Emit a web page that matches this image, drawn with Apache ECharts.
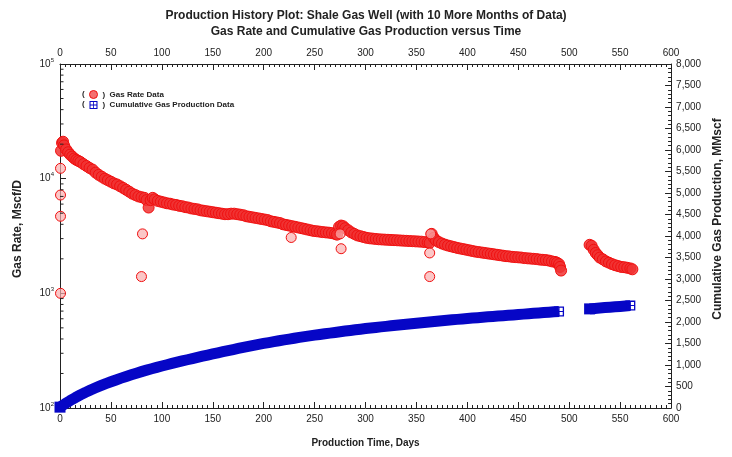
<!DOCTYPE html>
<html><head><meta charset="utf-8">
<script src="https://cdn.jsdelivr.net/npm/echarts/dist/echarts.min.js"></script>
<style>html,body{margin:0;padding:0;background:#fff;}#c{width:732px;height:457px;}</style>
</head><body><div id="c"></div>
<script>
// ---- Data ----
const titleLine1 = 'Production History Plot: Shale Gas Well (with 10 More Months of Data)';
const titleLine2 = 'Gas Rate and Cumulative Gas Production versus Time';
const xTickLabels = [0,50,100,150,200,250,300,350,400,450,500,550,600];
const rightTickStep = 500;
const logMinorTicks = [200,300,400,500,600,700,800,900,2000,3000,4000,5000,6000,7000,8000,9000,20000,30000,40000,50000,60000,70000,80000,90000];

// Gas rate, Mscf/D (segment 1)
const rateDays1 = [1,2,3,4,6,8,10,12,14,16,18,20,23,26,29,32,35,38,41,44,47,50,53,56,59,62,65,68,71,74,77,80,83,85,87,89,91,93,96,99,102,105,108,111,114,117,120,123,126,129,132,135,138,141,144,147,150,153,156,159,162,165,168,171,174,177,180,183,186,189,192,195,198,201,204,207,210,213,216,219,222,225,228,231,234,237,240,243,246,249,252,255,258,261,264,267,270,272,274,276,278,280,283,286,289,292,295,298,301,304,307,310,313,316,319,322,325,328,331,334,337,340,343,346,349,352,355,358,361,363,365,367,369,372,375,378,381,384,387,390,393,396,399,402,405,408,411,414,417,420,423,426,429,432,435,438,441,444,447,450,453,456,459,462,465,468,471,474,477,480,483,486,488,490,491,492];
const rateVals1 = [17500,20500,21000,19500,18000,17000,16200,15600,15000,14600,14300,14000,13400,12900,12400,12000,11300,10800,10400,10000,9700,9400,9100,8900,8600,8300,8000,7700,7400,7200,7000,6900,6800,6500,5600,6500,6800,6600,6400,6300,6200,6100,6050,5950,5900,5800,5750,5650,5600,5500,5450,5400,5300,5250,5200,5150,5100,5050,5000,4950,4900,4900,4950,4950,4900,4850,4800,4700,4650,4600,4550,4500,4450,4400,4350,4250,4200,4150,4100,4000,3950,3900,3850,3800,3750,3700,3650,3600,3550,3500,3480,3450,3420,3400,3380,3350,3300,3250,3800,3900,3850,3700,3550,3400,3300,3200,3150,3100,3050,3020,3000,2980,2960,2950,2940,2930,2920,2910,2900,2890,2880,2870,2860,2850,2840,2830,2820,2800,2780,2750,3300,3050,2900,2800,2720,2660,2610,2570,2530,2490,2460,2430,2400,2370,2340,2310,2290,2270,2250,2230,2210,2190,2170,2150,2130,2110,2100,2080,2070,2060,2050,2030,2020,2010,2000,1990,1970,1960,1950,1930,1900,1880,1850,1800,1700,1580];
// Gas rate, Mscf/D (segment 2, after the gap)
const rateDays2 = [520,522,524,526,528,530,533,536,539,542,545,548,551,554,557,560,562];
const rateVals2 = [2650,2600,2400,2250,2150,2050,1980,1900,1850,1800,1760,1730,1700,1690,1670,1650,1620];
// Low outlier rate points
const outlierDays = [0.5,0.5,0.5,0.5,81,80,227,275,276,364,363,363];
const outlierVals = [1000,4700,7200,12300,3300,1400,3070,3300,2450,3300,2250,1400];

// Cumulative gas production, MMscf
const cumDays1 = [0,5,10,15,20,25,30,35,40,45,50,55,60,65,70,75,80,85,90,95,100,105,110,115,120,125,130,135,140,145,150,155,160,165,170,175,180,185,190,195,200,205,210,215,220,225,230,235,240,245,250,255,260,265,270,275,280,285,290,295,300,305,310,315,320,325,330,335,340,345,350,355,360,365,370,375,380,385,390,395,400,405,410,415,420,425,430,435,440,445,450,455,460,465,470,475,480,485,490];
const cumVals1 = [20,100,172,240,304,364,420,472,521,567,610,652,694,734,773,810,846,880,913,945,976,1006,1036,1065,1094,1122,1150,1178,1205,1232,1258,1284,1309,1334,1359,1384,1408,1432,1455,1478,1501,1522,1543,1563,1583,1603,1622,1641,1659,1677,1695,1711,1727,1742,1757,1773,1789,1804,1819,1833,1847,1860,1873,1886,1899,1912,1924,1936,1948,1960,1972,1983,1994,2006,2018,2029,2040,2051,2061,2071,2081,2091,2101,2111,2120,2129,2138,2147,2156,2165,2174,2183,2192,2201,2210,2219,2228,2236,2244];
const cumDays2 = [520,525,530,535,540,545,550,555,560];
const cumVals2 = [2305,2316,2326,2336,2345,2354,2363,2372,2381];

// ---- Chart ----
const FONT = '"Liberation Sans", Arial, sans-serif';
const RED = '#f01010';
const BLUE = '#0606c6';
const crossSquare = 'path://M0,0H10V10H0Z M1.3,1.3V4.5H4.5V1.3Z M5.5,1.3V4.5H8.7V1.3Z M1.3,5.5V8.7H4.5V5.5Z M5.5,5.5V8.7H8.7V5.5Z';

const rateData = [];
rateDays1.forEach((d,i)=>rateData.push([d, rateVals1[i]]));
rateDays2.forEach((d,i)=>rateData.push([d, rateVals2[i]]));
outlierDays.forEach((d,i)=>rateData.push({value:[d, outlierVals[i]], symbolSize:10,
  itemStyle:{color:'rgba(250,175,175,0.7)', borderColor:RED, borderWidth:1}}));

function cumSeriesData(days, vals){
  return days.map((d,i)=>{
    const item = {value:[d, vals[i]]};
    if (i === days.length-1) { item.symbol = crossSquare; item.symbolSize = 10; }
    else if (i === 0) { item.symbol = 'rect'; item.symbolSize = 11; }
    else { item.symbol = 'none'; }
    return item;
  });
}

const tickLabelStyle = {fontFamily: FONT, fontSize: 10, color: '#222'};
const axisLineStyle = {lineStyle:{color:'#222', width:1}};

function xAxisCfg(pos){
  return {
    type:'value', position:pos, min:0, max:600, interval:50,
    axisLine: Object.assign({show:true, onZero:false}, axisLineStyle),
    axisTick:{show:true, inside:true, length:6, lineStyle:{color:'#222'}},
    minorTick:{show:true, splitNumber:10, length:3, lineStyle:{color:'#222'}},
    splitLine:{show:false},
    axisLabel: Object.assign({margin:6, formatter: v => xTickLabels.includes(v) ? String(v) : ''}, tickLabelStyle)
  };
}

function cumSeries(days, vals){
  return {
    name:'Cumulative Gas Production Data', type:'line', xAxisIndex:0, yAxisIndex:1,
    symbol:'rect', symbolSize:10, showSymbol:true, showAllSymbol:true,
    lineStyle:{color:BLUE, width:11, cap:'butt', join:'round'},
    itemStyle:{color:BLUE, borderColor:BLUE, borderWidth:0},
    data:cumSeriesData(days, vals), z:3
  };
}

const chart = echarts.init(document.getElementById('c'), null, {renderer:'canvas'});
chart.setOption({
  backgroundColor:'#fff',
  animation:false,
  title:{
    text: titleLine1 + '\n' + titleLine2,
    left:'center', top:3,
    textStyle:{fontFamily:FONT, fontSize:12, fontWeight:'bold', color:'#222', lineHeight:16}
  },
  legend:{
    orient:'vertical', left:89, top:90, padding:0, itemWidth:8, itemHeight:8, itemGap:2,
    textStyle:{fontFamily:FONT, fontSize:8, fontWeight:'bold', color:'#222'},
    formatter: n => ')  ' + n,
    data:[
      {name:'Gas Rate Data', icon:'circle', itemStyle:{color:'#f47070', borderColor:RED, borderWidth:1}},
      {name:'Cumulative Gas Production Data', icon:crossSquare, itemStyle:{color:BLUE}}
    ]
  },
  graphic:[
    {type:'text', left:82, top:90, style:{text:'(', font:'bold 8px '+FONT, fill:'#222'}},
    {type:'text', left:82, top:100, style:{text:'(', font:'bold 8px '+FONT, fill:'#222'}}
  ],
  grid:{left:60, right:54, top:64, bottom:49, containLabel:false},
  xAxis:[
    Object.assign(xAxisCfg('bottom'), {name:'Production Time, Days', nameLocation:'middle', nameGap:30,
      nameTextStyle:{fontFamily:FONT, fontSize:10, fontWeight:'bold', color:'#222'}}),
    xAxisCfg('top')
  ],
  yAxis:[
    {
      type:'log', logBase:10, min:100, max:100000, position:'left',
      name:'Gas Rate, Mscf/D', nameLocation:'middle', nameGap:36, nameRotate:90,
      nameTextStyle:{fontFamily:FONT, fontSize:12, fontWeight:'bold', color:'#222', padding:[0,0,0,14]},
      axisLine: Object.assign({show:true, onZero:false}, axisLineStyle),
      axisTick:{show:true, inside:true, length:6, lineStyle:{color:'#222'}},
      minorTick:{show:false},
      splitLine:{show:false},
      axisLabel:{
        margin:6,
        formatter: v => '{b|10}{s|' + Math.round(Math.log10(v)) + '}',
        rich:{
          b:{fontFamily:FONT, fontSize:10, color:'#222'},
          s:{fontFamily:FONT, fontSize:6, color:'#222', padding:[0,0,8,0]}
        }
      }
    },
    {
      type:'value', min:0, max:8000, interval:rightTickStep, position:'right',
      name:'Cumulative Gas Production, MMscf', nameLocation:'middle', nameGap:38, nameRotate:90,
      nameTextStyle:{fontFamily:FONT, fontSize:12, fontWeight:'bold', color:'#222', padding:[0,0,0,34]},
      axisLine: Object.assign({show:true, onZero:false}, axisLineStyle),
      axisTick:{show:true, inside:true, length:6, lineStyle:{color:'#222'}},
      minorTick:{show:true, splitNumber:5, length:3, lineStyle:{color:'#222'}},
      splitLine:{show:false},
      axisLabel: Object.assign({margin:5, formatter: v => v.toLocaleString('en-US')}, tickLabelStyle)
    }
  ],
  series:[
    cumSeries(cumDays1, cumVals1),
    cumSeries(cumDays2, cumVals2),
    {
      name:'Gas Rate Data', type:'scatter', xAxisIndex:0, yAxisIndex:0,
      symbol:'circle', symbolSize:11,
      itemStyle:{color:'rgba(240,50,50,0.85)', borderColor:RED, borderWidth:1, opacity:1},
      data:rateData, z:4
    },
    {
      type:'custom', xAxisIndex:0, yAxisIndex:0, silent:true, clip:false,
      data: logMinorTicks.map(v => [0, v]),
      renderItem: function(params, api){
        const p = api.coord([0, api.value(1)]);
        return {type:'line', shape:{x1:p[0], y1:p[1], x2:p[0]+3.5, y2:p[1]}, style:{stroke:'#222', lineWidth:1}};
      },
      z:5
    }
  ]
});
</script>
</body></html>
